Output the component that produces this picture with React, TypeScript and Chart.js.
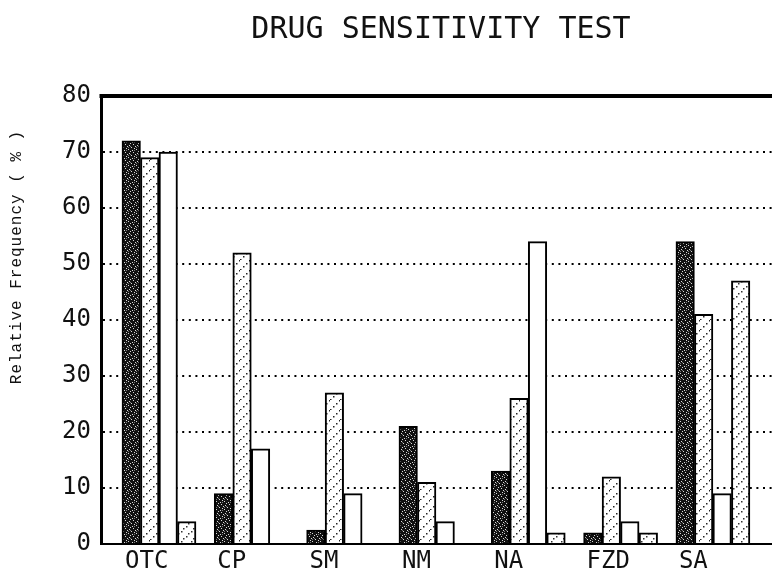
import React, { useEffect, useRef } from "react";
import { Chart, registerables } from "chart.js";

Chart.register(...registerables);

const categories = ["OTC", "CP", "SM", "NM", "NA", "FZD", "SA"];
const seriesDark = [72, 9, 2.5, 21, 13, 2, 54];
const seriesHatched = [69, 52, 27, 11, 26, 12, 41];
const seriesWhite = [70, 17, 9, 4, 54, 4, 9];
const seriesDotted = [4, 0, 0, 0, 2, 2, 47];
const yTicks = [0, 10, 20, 30, 40, 50, 60, 70, 80];

const TITLE = "DRUG SENSITIVITY TEST";
const Y_LABEL = "Relative Frequency ( % )";

function makePattern(kind: string): CanvasPattern | string {
  const size = kind === "dark" ? 8 : 10;
  const c = document.createElement("canvas");
  c.width = size;
  c.height = size;
  const g = c.getContext("2d");
  if (!g) return "#fff";
  if (kind === "dark") {
    g.fillStyle = "#111";
    g.fillRect(0, 0, 8, 8);
    g.fillStyle = "#d8d8d8";
    const pts = [[1, 1], [5, 0], [3, 3], [6, 4], [0, 5], [4, 6], [2, 7], [7, 2]];
    pts.forEach(([x, y]) => g.fillRect(x, y, 1, 1));
    g.fillStyle = "#777";
    [[2, 2], [6, 6], [0, 3]].forEach(([x, y]) => g.fillRect(x, y, 1, 1));
  } else if (kind === "hatch") {
    g.fillStyle = "#fff";
    g.fillRect(0, 0, 10, 10);
    g.fillStyle = "#222";
    [[9, 0], [6, 3], [3, 6], [0, 9]].forEach(([x, y]) => g.fillRect(x, y, 1.5, 1.5));
  } else if (kind === "cross") {
    g.fillStyle = "#fff";
    g.fillRect(0, 0, 10, 10);
    g.fillStyle = "#333";
    [[1, 1], [6, 6], [8, 3], [3, 8]].forEach(([x, y]) => g.fillRect(x, y, 1.5, 1.5));
  } else {
    g.fillStyle = "#fff";
    g.fillRect(0, 0, size, size);
  }
  const p = g.createPattern(c, "repeat");
  return p || "#fff";
}

const decorPlugin = {
  id: "decor",
  afterDraw(chart: any) {
    const ctx = chart.ctx;
    const area = chart.chartArea;
    const y = chart.scales.y;
    ctx.save();
    const top = y.getPixelForValue(80);
    ctx.strokeStyle = "#000";
    ctx.lineWidth = 4;
    ctx.beginPath();
    ctx.moveTo(area.left - 1.5, top);
    ctx.lineTo(area.right, top);
    ctx.stroke();
    ctx.fillStyle = "#111";
    ctx.font = "30px 'DejaVu Sans Mono'";
    ctx.textAlign = "center";
    ctx.textBaseline = "alphabetic";
    ctx.fillText(TITLE, 441, 38);
    ctx.translate(17, 257);
    ctx.rotate(-Math.PI / 2);
    ctx.font = "16px 'Liberation Mono'";
    (ctx as any).letterSpacing = "1px";
    ctx.textBaseline = "middle";
    ctx.fillText(Y_LABEL, 0, 0);
    ctx.restore();
  },
};

export default function App() {
  const ref = useRef<HTMLCanvasElement>(null);
  useEffect(() => {
    if (!ref.current) return;
    const fills = [makePattern("dark"), makePattern("hatch"), makePattern("white"), makePattern("cross")];
    const series = [seriesDark, seriesHatched, seriesWhite, seriesDotted];
    const names = ["Series A", "Series B", "Series C", "Series D"];
    const chart = new Chart(ref.current, {
      type: "bar",
      data: {
        datasets: series.map((vals, si) => ({
          label: names[si],
          data: categories.map((_, i) => ({ x: i, y: vals[i] })),
          backgroundColor: fills[si] as any,
          borderColor: "#000",
          borderWidth: 2,
          barThickness: 18.5,
        })),
      },
      options: {
        animation: false,
        responsive: false,
        devicePixelRatio: 1,
        layout: { padding: { top: 96, right: 0, left: 0, bottom: 0 } },
        plugins: { legend: { display: false }, title: { display: false }, tooltip: { enabled: false } },
        scales: {
          x: {
            type: "linear",
            min: -0.628,
            max: 6.64,
            offset: false,
            grid: { display: false, drawTicks: false },
            border: { display: true, color: "#000", width: 2 },
            ticks: {
              stepSize: 1,
              includeBounds: false,
              autoSkip: false,
              maxRotation: 0,
              minRotation: 0,
              align: "start",
              labelOffset: -34,
              padding: 3,
              color: "#111",
              font: { family: "'DejaVu Sans Mono'", size: 24 },
              callback: (v: any) => {
                const i = Math.round(Number(v));
                return Math.abs(Number(v) - i) < 1e-6 && categories[i] ? categories[i] : "";
              },
            },
            afterFit: (s: any) => {
              s.height = 30;
            },
          },
          y: {
            min: yTicks[0],
            max: yTicks[yTicks.length - 1],
            grid: { display: true, color: "#000", lineWidth: 2, drawTicks: false },
            border: { display: true, color: "#000", width: 3, dash: [2, 4.6] },
            ticks: {
              stepSize: 10,
              padding: 10,
              color: "#111",
              font: { family: "'DejaVu Sans Mono'", size: 24 },
            },
            afterFit: (s: any) => {
              s.width = 101;
            },
          },
        },
      },
      plugins: [decorPlugin],
    } as any);
    return () => chart.destroy();
  }, []);
  return (
    <div style={{ position: "fixed", left: 0, top: 0, width: 772, height: 574, background: "#fff" }}>
      <canvas ref={ref} width={772} height={574} style={{ display: "block" }} />
    </div>
  );
}
